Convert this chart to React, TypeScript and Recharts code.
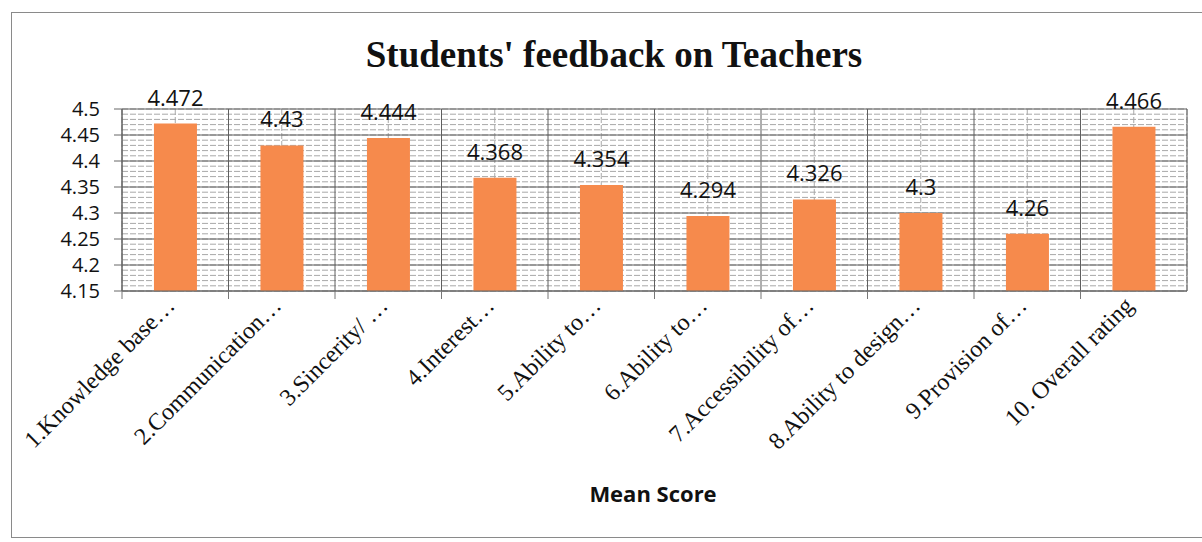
import React from 'react';
import { BarChart, Bar, XAxis, YAxis, CartesianGrid, LabelList } from 'recharts';

// Mean score per feedback item
const categories = [
   '1.Knowledge base…',
   '2.Communication…',
   '3.Sincerity/ …',
   '4.Interest…',
   '5.Ability to…',
   '6.Ability to…',
   '7.Accessibility of…',
   '8.Ability to design…',
   '9.Provision of…',
   '10. Overall rating',
];
const meanScores = [4.472, 4.43, 4.444, 4.368, 4.354, 4.294, 4.326, 4.3, 4.26, 4.466];
const yTicks = [4.15, 4.2, 4.25, 4.3, 4.35, 4.4, 4.45, 4.5];
const yDomain: [number, number] = [4.15, 4.5];

const data = categories.map((name, i) => ({ name, score: meanScores[i] }));

// minor gridlines every 0.01, like the Excel original
const minorTicks = Array.from({ length: 36 }, (_, i) => Math.round((4.15 + i * 0.01) * 100) / 100);

const W = 1202;
const H = 542;
const numFont = '"Open Sans", sans-serif';
const serif = '"Liberation Serif", "Times New Roman", serif';

const CategoryTick = (props: any) => {
   const { x, y, payload } = props;
   const half = props.bandHalf ?? 53;
   return (
      <g>
         <line x1={x - half} x2={x - half} y1={y - 8} y2={y} stroke="#777" />
         <g transform={`translate(${x + 1},${y + 8})`}>
            <text textAnchor="end" transform="rotate(-45)" fontFamily={serif} fontSize={24} fill="#111">
               {payload.value}
            </text>
         </g>
      </g>
   );
};

const App = () => {
   return (
      <div style={{ position: 'fixed', left: 0, top: 0, width: W, height: H, background: '#fff', overflow: 'hidden' }}>
         <div
            style={{
               position: 'absolute', left: 11, top: 12, width: 1200, height: 526,
               border: '1px solid #8a8a8a', boxSizing: 'border-box',
            }}
         />
         <div
            style={{
               position: 'absolute', left: 0, top: 36, width: 1228, textAlign: 'center', lineHeight: 1,
               fontFamily: serif, fontWeight: 'bold', fontSize: 37, color: '#111',
            }}
         >
            Students' feedback on Teachers
         </div>
         <div
            style={{
               position: 'absolute', left: 0, top: 482, width: 1306, textAlign: 'center', lineHeight: 1,
               fontFamily: numFont, fontWeight: 'bold', fontSize: 22, color: '#111',
            }}
         >
            Mean Score
         </div>
         <div style={{ position: 'absolute', left: 0, top: 0 }}>
            <BarChart
               width={W}
               height={H}
               data={data}
               margin={{ top: 109, right: 15, left: 0, bottom: 51 }}
               barCategoryGap="30%"
            >
               <CartesianGrid yAxisId="minor" stroke="#a8a8a8" strokeDasharray="6 2" />
               <CartesianGrid
                  stroke="#5f5f5f"
                  vertical={true}
                  verticalCoordinatesGenerator={({ offset }: any) =>
                     categories.map((_, i) => offset.left + (offset.width * i) / categories.length).concat(offset.left + offset.width)
                  }
               />
               <XAxis
                  dataKey="name"
                  interval={0}
                  height={200}
                  tickLine={false}
                  axisLine={{ stroke: '#666' }}
                  tick={<CategoryTick bandHalf={(W - 122 - 15) / categories.length / 2} />}
               />
               <YAxis
                  width={122}
                  domain={yDomain}
                  ticks={yTicks}
                  interval={0}
                  allowDataOverflow
                  tickSize={8}
                  tickMargin={14}
                  axisLine={{ stroke: '#666' }}
                  tickLine={{ stroke: '#666' }}
                  tick={{ fontFamily: numFont, fontSize: 20, fill: '#111' }}
               />
               <YAxis yAxisId="minor" hide domain={yDomain} ticks={minorTicks} interval={0} allowDataOverflow />
               <Bar dataKey="score" fill="#F68A4C" isAnimationActive={false}>
                  <LabelList
                     dataKey="score"
                     position="top"
                     offset={18}
                     style={{ fontFamily: numFont, fontSize: 22, fill: '#111' }}
                  />
               </Bar>
            </BarChart>
         </div>
      </div>
   );
};

export default App;
